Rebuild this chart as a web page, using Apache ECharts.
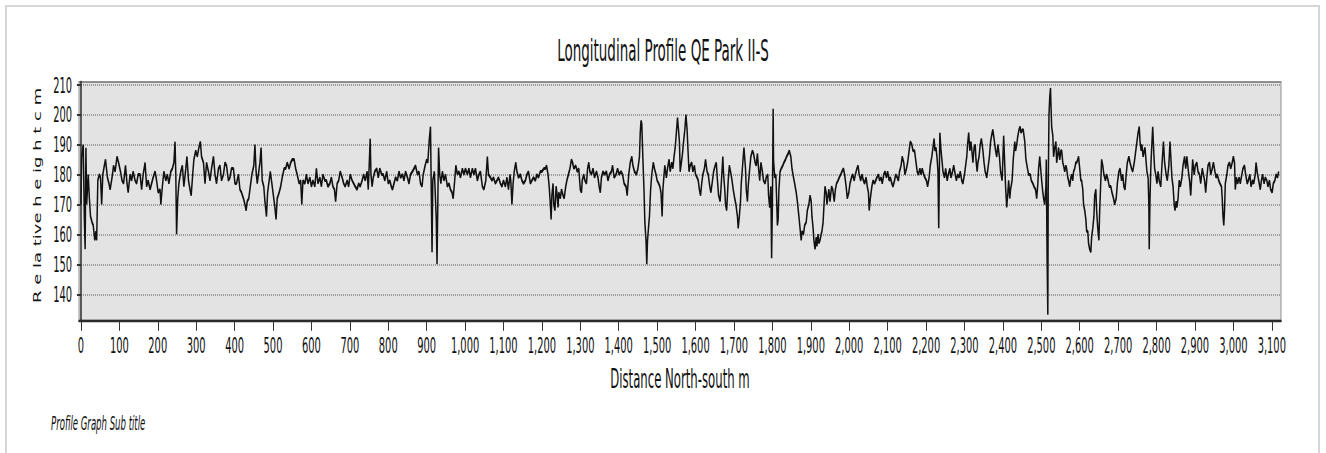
<!DOCTYPE html>
<html>
<head>
<meta charset="utf-8">
<title>Longitudinal Profile QE Park II-S</title>
<script src="https://cdn.jsdelivr.net/npm/echarts@6/dist/echarts.min.js"></script>
<style>
    html, body { margin: 0; padding: 0; background: #fff; overflow: hidden; }
    /* outer frame of the exported graph */
    #frame { position: absolute; left: 5px; top: 5px; width: 1311px; height: 470px; border: 2px solid #d6d6d6; }
    /* the original picture is stretched vertically, so the chart is drawn at half height and scaled */
    #psLine { position: absolute; left: 0; top: 0; width: 1326px; height: 226px; transform: scaleY(2); transform-origin: 0 0; }
</style>
</head>
<body>
<div id="frame"></div>
<div id="psLine"></div>
<script>
// 标题和轴名
var chartTitle = 'Longitudinal Profile QE Park II-S';
var subTitle = 'Profile Graph Sub title';
var xName = 'Distance North-south m';
var yName = 'R e la tive h e ig h t c m';

// 刻度
var xTicks = [0, 100, 200, 300, 400, 500, 600, 700, 800, 900, 1000, 1100, 1200, 1300, 1400, 1500,
    1600, 1700, 1800, 1900, 2000, 2100, 2200, 2300, 2400, 2500, 2600, 2700, 2800, 2900, 3000, 3100];
var yTicks = [140, 150, 160, 170, 180, 190, 200, 210];

// [distance m, relative height cm]
var profile0to750 = [
    [0,170],[2,186],[6,190],[9,165],[11,155],[13,189],[15,170],[17,175],[19,180],[22,172],
    [25,166],[29,164],[32,163],[36,158],[39,161],[41,158],[44,178],[48,180],[51,179],[54,170],
    [57,180],[61,183],[64,185],[69,179],[73,177],[76,175],[81,179],[85,183],[89,181],[94,186],
    [98,184],[103,181],[107,178],[111,177],[116,183],[120,177],[123,174],[128,180],[132,178],[136,181],
    [141,178],[145,177],[149,180],[154,180],[158,175],[162,180],[167,184],[171,176],[175,178],[180,175],
    [184,177],[188,179],[193,181],[197,178],[201,174],[206,175],[208,170],[212,176],[216,181],[221,178],
    [225,180],[229,177],[234,181],[238,182],[242,184],[245,191],[247,180],[249,160],[252,172],[255,177],
    [260,181],[264,183],[268,176],[273,182],[276,186],[280,178],[284,175],[287,173],[291,180],[294,185],
    [299,188],[303,186],[307,189],[311,191],[314,186],[319,184],[323,177],[327,184],[332,181],[336,178],
    [340,182],[345,186],[349,180],[353,177],[358,182],[362,183],[366,178],[371,180],[375,184],[379,183],
    [384,178],[388,179],[392,182],[397,182],[401,177],[405,177],[410,180],[414,175],[418,174],[423,172],
    [427,170],[430,168],[433,171],[437,172],[441,176],[445,180],[450,183],[453,190],[456,181],[459,177],
    [463,181],[466,184],[469,189],[472,178],[476,176],[479,171],[483,166],[486,174],[490,178],[493,181],
    [497,177],[501,173],[504,170],[508,165],[511,172],[516,174],[520,176],[524,179],[529,182],[533,182],
    [537,184],[542,182],[546,184],[550,185],[555,185],[559,182],[563,180],[568,177],[572,178],[575,170],
    [578,178],[583,177],[587,180],[591,177],[596,179],[600,176],[604,178],[609,176],[613,182],[617,177],
    [622,179],[626,176],[630,180],[635,178],[639,178],[643,176],[648,177],[652,179],[656,176],[660,175],
    [663,171],[667,177],[671,178],[675,181],[680,179],[684,177],[688,176],[693,178],[697,176],[701,180],
    [706,178],[710,177],[714,176],[719,175],[723,177],[727,176],[732,178],[736,180],[740,178],[745,181],
    [748,175],[751,185],[753,192],[755,180],[758,176]
];

var profile750to1540 = [
    [761,179],[765,181],[770,182],[774,179],[778,182],[783,180],[787,180],[791,178],[796,181],[800,177],
    [804,178],[808,176],[811,175],[815,177],[819,179],[824,178],[828,181],[832,179],[837,180],[841,178],
    [845,181],[850,179],[854,177],[858,180],[863,181],[867,182],[871,183],[876,180],[880,181],[884,177],
    [888,176],[891,180],[896,183],[900,185],[903,184],[907,192],[910,196],[912,175],[914,154],[916,178],
    [920,181],[922,175],[925,165],[927,150],[929,170],[931,189],[934,180],[937,177],[941,181],[945,178],
    [949,180],[954,176],[958,177],[962,175],[966,174],[969,172],[973,178],[976,183],[980,180],[984,181],
    [988,179],[993,182],[997,180],[1001,182],[1006,180],[1010,182],[1014,179],[1019,182],[1023,180],[1027,182],
    [1032,178],[1036,180],[1040,181],[1045,176],[1049,175],[1054,178],[1058,186],[1061,180],[1066,179],[1070,178],
    [1074,179],[1079,177],[1083,178],[1087,179],[1092,177],[1096,176],[1100,178],[1105,176],[1109,179],[1113,175],
    [1117,180],[1119,178],[1122,170],[1125,177],[1128,181],[1132,184],[1135,181],[1139,179],[1144,180],[1148,178],
    [1152,177],[1157,178],[1161,180],[1165,181],[1170,177],[1174,178],[1178,179],[1183,178],[1187,180],[1191,179],
    [1196,181],[1200,181],[1205,182],[1209,182],[1212,183],[1216,180],[1219,176],[1222,170],[1224,165],[1226,173],
    [1229,177],[1231,170],[1234,168],[1237,176],[1239,174],[1242,169],[1244,174],[1248,172],[1251,175],[1255,173],
    [1258,172],[1262,176],[1265,178],[1269,180],[1273,182],[1277,185],[1280,184],[1283,182],[1288,183],[1292,181],
    [1296,182],[1300,175],[1303,174],[1305,178],[1309,180],[1312,178],[1316,177],[1319,182],[1322,184],[1325,181],
    [1329,180],[1333,182],[1337,179],[1342,181],[1346,179],[1349,176],[1352,174],[1355,179],[1359,181],[1363,180],
    [1368,181],[1372,178],[1376,180],[1381,181],[1384,183],[1388,179],[1393,180],[1397,182],[1401,180],[1406,181],
    [1410,180],[1414,177],[1419,176],[1422,173],[1426,180],[1430,184],[1434,186],[1437,183],[1441,181],[1446,180],
    [1450,182],[1454,186],[1456,194],[1458,198],[1460,197],[1463,185],[1466,174],[1468,164],[1471,158],[1473,150],
    [1475,158],[1478,163],[1480,166],[1483,175],[1486,180],[1490,184],[1493,182],[1497,180],[1500,178],[1504,177],
    [1507,176],[1510,174],[1513,166],[1515,175],[1518,180],[1520,183],[1524,179],[1527,182],[1531,185],[1534,181],
    [1538,184],[1541,182]
];

var profile1540to2315 = [
    [1544,186],[1547,189],[1550,194],[1553,199],[1555,196],[1558,191],[1560,181],[1563,184],[1566,187],[1568,190],
    [1572,195],[1575,200],[1578,195],[1580,189],[1583,181],[1586,183],[1590,184],[1593,181],[1597,183],[1600,180],
    [1604,179],[1607,178],[1610,175],[1613,173],[1616,177],[1619,180],[1623,182],[1626,185],[1630,181],[1633,180],
    [1637,176],[1640,174],[1644,178],[1647,181],[1651,183],[1654,184],[1657,178],[1660,173],[1664,171],[1667,177],
    [1671,186],[1673,180],[1676,175],[1678,170],[1681,168],[1685,178],[1688,183],[1691,181],[1695,178],[1698,175],
    [1702,172],[1705,170],[1709,166],[1711,162],[1714,166],[1717,171],[1719,177],[1723,184],[1726,189],[1730,182],
    [1732,175],[1735,171],[1737,176],[1741,182],[1744,186],[1748,188],[1751,187],[1755,184],[1758,183],[1761,187],
    [1764,182],[1767,178],[1770,184],[1774,181],[1777,178],[1781,177],[1784,179],[1788,180],[1790,173],[1793,169],
    [1796,176],[1798,152],[1800,170],[1802,202],[1803,185],[1806,179],[1809,180],[1811,172],[1813,163],[1815,165],
    [1817,175],[1820,181],[1823,182],[1827,183],[1830,184],[1834,185],[1837,186],[1841,187],[1844,188],[1848,186],
    [1851,182],[1855,179],[1858,177],[1862,174],[1865,171],[1869,166],[1872,162],[1875,158],[1877,161],[1881,160],
    [1884,163],[1888,164],[1891,168],[1895,170],[1898,173],[1901,171],[1903,166],[1906,162],[1908,158],[1911,155],
    [1914,159],[1916,156],[1919,160],[1921,157],[1924,158],[1927,160],[1929,161],[1932,164],[1934,169],[1937,176],
    [1940,174],[1942,170],[1945,173],[1947,175],[1950,171],[1954,176],[1957,175],[1961,171],[1964,175],[1967,177],
    [1971,178],[1974,179],[1978,180],[1981,181],[1985,182],[1988,180],[1992,176],[1995,172],[1999,174],[2002,177],
    [2006,179],[2009,180],[2013,178],[2016,180],[2020,182],[2023,183],[2026,180],[2030,178],[2033,180],[2037,178],
    [2040,177],[2044,179],[2047,176],[2050,174],[2052,168],[2055,172],[2059,176],[2062,178],[2066,177],[2069,178],
    [2072,179],[2076,180],[2079,178],[2083,179],[2086,177],[2090,180],[2093,181],[2097,179],[2100,181],[2104,178],
    [2107,179],[2111,177],[2114,176],[2118,178],[2121,180],[2125,179],[2128,178],[2131,181],[2135,183],[2138,186],
    [2142,184],[2145,180],[2149,182],[2152,184],[2156,188],[2159,191],[2163,190],[2166,188],[2170,188],[2173,185],
    [2177,181],[2180,180],[2184,182],[2187,180],[2190,182],[2194,180],[2197,179],[2201,178],[2204,176],[2208,179],
    [2211,183],[2215,186],[2218,189],[2221,192],[2223,188],[2226,189],[2229,185],[2231,181],[2233,162],[2235,185],
    [2236,194],[2239,188],[2242,184],[2244,181],[2248,179],[2251,182],[2255,178],[2258,180],[2262,182],[2265,179],
    [2269,181],[2272,183],[2276,180],[2279,178],[2282,180],[2286,179],[2289,181],[2293,178],[2296,177],[2300,180],
    [2303,183],[2306,186],[2308,190],[2311,194],[2314,188]
];

var profile2315to3120 = [
    [2317,191],[2320,187],[2322,184],[2325,189],[2328,190],[2330,185],[2333,181],[2335,184],[2338,186],[2341,190],
    [2344,192],[2348,188],[2351,184],[2354,181],[2358,179],[2361,182],[2365,186],[2368,191],[2372,194],[2374,195],
    [2377,192],[2381,188],[2384,186],[2387,190],[2391,186],[2394,181],[2398,178],[2400,185],[2402,193],[2405,183],
    [2407,176],[2410,169],[2413,174],[2415,178],[2418,172],[2420,175],[2424,178],[2427,185],[2431,191],[2433,188],
    [2436,190],[2439,193],[2442,195],[2445,196],[2447,194],[2451,195],[2453,195],[2457,191],[2460,185],[2464,182],
    [2467,180],[2471,180],[2474,178],[2478,177],[2481,176],[2485,175],[2488,172],[2491,177],[2493,182],[2496,186],
    [2499,181],[2501,178],[2504,174],[2506,172],[2509,170],[2512,176],[2513,185],[2515,153],[2517,133],[2518,175],
    [2520,200],[2522,206],[2524,209],[2525,204],[2527,196],[2530,193],[2532,186],[2535,189],[2538,191],[2540,184],
    [2543,187],[2545,189],[2548,185],[2551,188],[2553,188],[2556,184],[2558,183],[2561,181],[2564,183],[2566,182],
    [2569,179],[2571,178],[2574,176],[2577,179],[2579,180],[2582,178],[2584,181],[2587,182],[2590,184],[2592,184],
    [2595,185],[2597,186],[2600,182],[2603,178],[2605,178],[2608,175],[2610,170],[2613,168],[2616,165],[2618,161],
    [2621,161],[2623,157],[2626,155],[2629,154],[2631,159],[2634,162],[2637,166],[2639,173],[2642,175],[2644,168],
    [2647,162],[2650,158],[2652,168],[2655,178],[2657,185],[2660,183],[2663,180],[2667,178],[2670,180],[2674,178],
    [2677,176],[2681,176],[2684,174],[2688,172],[2691,170],[2695,172],[2698,177],[2702,181],[2705,182],[2709,178],
    [2712,180],[2715,176],[2718,175],[2721,180],[2724,184],[2728,186],[2731,184],[2735,182],[2738,181],[2742,184],
    [2745,187],[2748,190],[2752,194],[2755,196],[2757,191],[2760,188],[2762,190],[2765,186],[2768,188],[2770,189],
    [2773,184],[2775,181],[2778,179],[2780,170],[2781,155],[2783,172],[2785,182],[2787,188],[2790,196],[2793,187],
    [2795,182],[2798,180],[2801,177],[2804,181],[2807,178],[2811,176],[2814,183],[2818,191],[2821,184],[2825,180],
    [2828,178],[2832,183],[2835,191],[2838,184],[2840,179],[2843,176],[2846,170],[2848,168],[2851,171],[2853,169],
    [2856,172],[2859,178],[2862,176],[2866,179],[2869,183],[2873,186],[2876,182],[2879,186],[2883,181],[2886,178],
    [2889,173],[2892,180],[2894,185],[2898,180],[2901,183],[2905,184],[2908,181],[2912,180],[2915,177],[2919,182],
    [2922,180],[2925,178],[2928,174],[2931,179],[2934,183],[2938,184],[2941,180],[2945,182],[2948,184],[2952,181],
    [2955,179],[2958,180],[2962,178],[2965,177],[2969,176],[2971,172],[2973,166],[2975,163],[2977,168],[2979,177],
    [2983,180],[2986,183],[2990,184],[2993,182],[2997,184],[3000,186],[3003,184],[3005,175],[3008,179],[3011,177],
    [3015,179],[3018,177],[3022,180],[3025,182],[3029,183],[3032,180],[3036,177],[3039,178],[3043,180],[3046,176],
    [3050,178],[3053,177],[3057,180],[3059,184],[3063,180],[3066,178],[3070,175],[3073,178],[3076,180],[3080,177],
    [3083,179],[3087,178],[3090,176],[3094,178],[3097,175],[3101,174],[3104,177],[3108,178],[3111,180],[3115,179],
    [3118,181]
];

var profile = profile0to750.concat(profile750to1540, profile1540to2315, profile2315to3120);

var narrowFont = "'Liberation Sans Narrow', 'DejaVu Sans Condensed', 'Arial Narrow', sans-serif";

// 基于准备好的dom，初始化echarts实例
var myChart = echarts.init(document.getElementById('psLine'), null, {renderer: 'svg'});

var option = {
    animation: false,
    title: [
        {
            text: chartTitle,
            left: 'center',
            top: 13,
            textStyle: {fontFamily: narrowFont, fontSize: 15, fontWeight: 'normal', color: '#111'}
        },
        {
            text: subTitle,
            left: 46,
            top: 202,
            textStyle: {fontFamily: narrowFont, fontSize: 9.5, fontStyle: 'italic', fontWeight: 'normal', color: '#111'}
        }
    ],
    grid: {
        left: 79,
        right: 45,
        top: 41,
        bottom: 65.6,
        show: true,
        backgroundColor: '#e3e3e3',
        borderColor: '#8f8f8f',
        borderWidth: 1
    },
    xAxis: {
        type: 'value',
        min: -5,
        max: 3124,
        name: xName,
        nameLocation: 'middle',
        nameGap: 21,
        nameTextStyle: {fontFamily: narrowFont, fontSize: 13, color: '#111'},
        axisLine: {show: true, onZero: false, lineStyle: {color: '#2b2b2b', width: 1.3}},
        axisTick: {show: true, customValues: xTicks, length: 5, lineStyle: {color: '#333', width: 1}},
        axisLabel: {
            customValues: xTicks,
            margin: 7,
            fontFamily: narrowFont,
            fontSize: 11,
            color: '#111',
            formatter: function (v) {
                return String(v).replace(/\B(?=(\d{3})+(?!\d))/g, ',');
            }
        },
        splitLine: {show: false}
    },
    yAxis: {
        type: 'value',
        min: 131,
        max: 211,
        name: yName,
        nameLocation: 'middle',
        nameRotate: 90,
        nameGap: 31,
        nameTextStyle: {fontFamily: narrowFont, fontSize: 10, color: '#111', padding: [0, 0, 0, 6]},
        axisLine: {show: true, lineStyle: {color: '#2b2b2b', width: 1.5}},
        axisTick: {show: true, customValues: yTicks, length: 4, lineStyle: {color: '#333', width: 1}},
        axisLabel: {customValues: yTicks, margin: 7, fontFamily: narrowFont, fontSize: 11, color: '#111'},
        splitLine: {show: true, lineStyle: {color: '#9c9c9c', type: 'dotted', width: 1}}
    },
    series: [
        {
            type: 'line',
            data: profile,
            symbol: 'none',
            showSymbol: false,
            clip: true,
            lineStyle: {color: '#111', width: 1.5}
        }
    ]
};

myChart.setOption(option, true);

window.onresize = function () {
    setTimeout(function () {
        myChart.resize();
    }, 50);
};
</script>
</body>
</html>
